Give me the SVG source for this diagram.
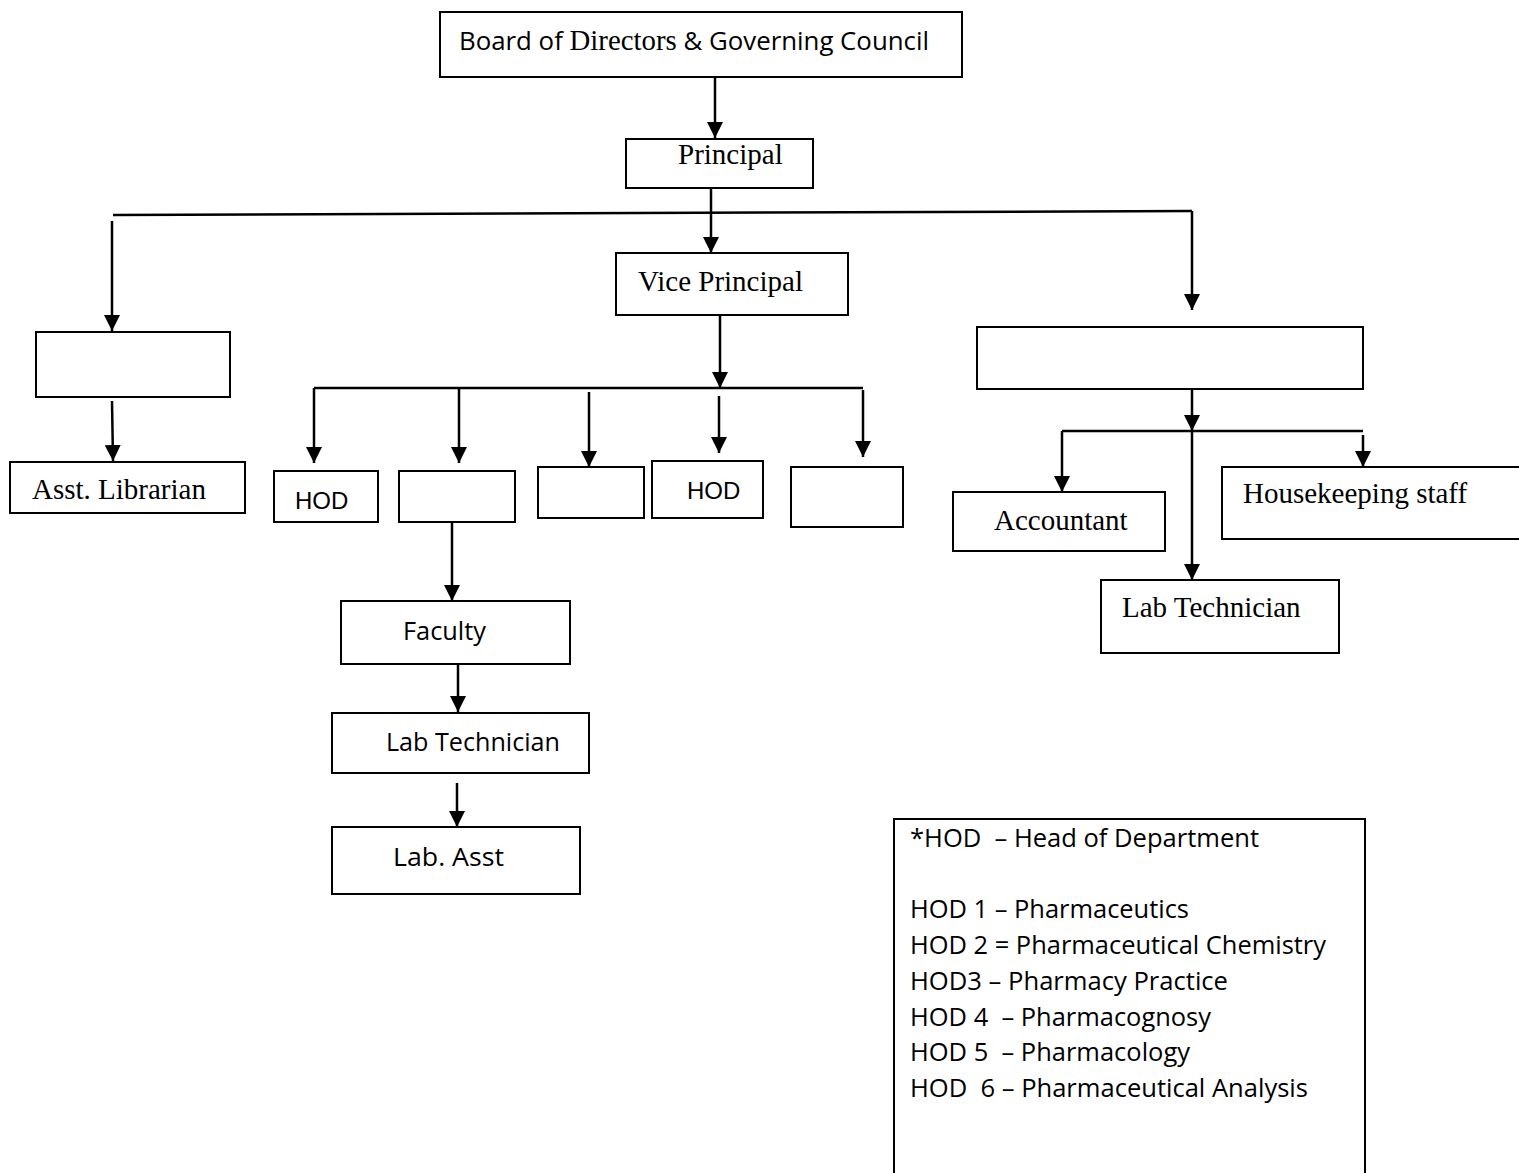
<svg xmlns="http://www.w3.org/2000/svg" width="1519" height="1173" viewBox="0 0 1519 1173">
<style>
.box{fill:#fff;stroke:#000;stroke-width:2}
.ln{fill:none;stroke:#000;stroke-width:2.5}
.ar{fill:none;stroke:#000;stroke-width:2.5;marker-end:url(#ah)}
.serif{font-family:"Liberation Serif","Times New Roman",serif;font-size:29px;fill:#000}
.sans{font-family:"Open Sans","Noto Sans",sans-serif;font-size:26px;fill:#000}
.arial{font-family:"Liberation Sans",Arial,sans-serif;font-size:24px;fill:#000}
text{white-space:pre}
</style>
<defs>
<marker id="ah" markerUnits="userSpaceOnUse" viewBox="0 0 16 16" refX="16" refY="8" markerWidth="16" markerHeight="16" orient="auto">
<path d="M0,0 L16,8 L0,16 z" fill="#000"/>
</marker>
</defs>
<rect width="1519" height="1173" fill="#fff"/>

<g id="connectors">
<line class="ar" x1="715" y1="77" x2="715" y2="138"/>
<line class="ar" x1="711" y1="182" x2="711" y2="253"/>
<line class="ln" x1="113" y1="215" x2="1192" y2="211"/>
<line class="ar" x1="112" y1="221" x2="112" y2="331"/>
<line class="ar" x1="1192" y1="211" x2="1192" y2="310"/>
<line class="ar" x1="112" y1="401" x2="113" y2="461"/>
<line class="ar" x1="720" y1="313" x2="720" y2="388"/>
<line class="ln" x1="314" y1="388" x2="863" y2="388"/>
<line class="ar" x1="314" y1="388" x2="314" y2="463"/>
<line class="ar" x1="459" y1="388" x2="459" y2="463"/>
<line class="ar" x1="589" y1="392" x2="589" y2="467"/>
<line class="ar" x1="719" y1="396" x2="719" y2="453"/>
<line class="ar" x1="863" y1="390" x2="863" y2="457"/>
<line class="ar" x1="452" y1="522" x2="452" y2="601"/>
<line class="ar" x1="458" y1="664" x2="458" y2="712"/>
<line class="ar" x1="457" y1="783" x2="457" y2="827"/>
<line class="ar" x1="1192" y1="389" x2="1192" y2="431"/>
<line class="ln" x1="1062" y1="431" x2="1363" y2="431"/>
<line class="ar" x1="1062" y1="431" x2="1062" y2="492"/>
<line class="ar" x1="1192" y1="431" x2="1192" y2="580"/>
<line class="ar" x1="1363" y1="435" x2="1363" y2="467"/>
</g>

<g id="board">
<rect class="box" x="440" y="12" width="522" height="65"/>
<text x="459" y="50" textLength="470" lengthAdjust="spacingAndGlyphs"><tspan class="sans" font-size="25">Board of </tspan><tspan class="serif" font-size="27">Directors</tspan><tspan class="sans" font-size="25"> &amp; Governing Council</tspan></text>
</g>
<g id="principal">
<rect class="box" x="626" y="139" width="187" height="49"/>
<text class="serif" x="678" y="164">Principal</text>
</g>
<g id="vice-principal">
<rect class="box" x="616" y="253" width="232" height="62"/>
<text class="serif" x="638" y="291">Vice Principal</text>
</g>
<g id="left-blank">
<rect class="box" x="36" y="332" width="194" height="65"/>
</g>
<g id="asst-librarian">
<rect class="box" x="10" y="462" width="235" height="51"/>
<text class="serif" x="32" y="499">Asst. Librarian</text>
</g>
<g id="hod-1">
<rect class="box" x="274" y="471" width="104" height="51"/>
<text class="arial" x="295" y="509">HOD</text>
</g>
<g id="hod-2">
<rect class="box" x="399" y="471" width="116" height="51"/>
</g>
<g id="hod-3">
<rect class="box" x="538" y="467" width="106" height="51"/>
</g>
<g id="hod-4">
<rect class="box" x="652" y="461" width="111" height="57"/>
<text class="arial" x="687" y="499">HOD</text>
</g>
<g id="hod-5">
<rect class="box" x="791" y="467" width="112" height="60"/>
</g>
<g id="faculty">
<rect class="box" x="341" y="601" width="229" height="63"/>
<text class="sans" x="403" y="640" textLength="83" lengthAdjust="spacingAndGlyphs">Faculty</text>
</g>
<g id="lab-technician-1">
<rect class="box" x="332" y="713" width="257" height="60"/>
<text class="sans" x="386" y="751" textLength="174" lengthAdjust="spacingAndGlyphs">Lab Technician</text>
</g>
<g id="lab-asst">
<rect class="box" x="332" y="827" width="248" height="67"/>
<text class="sans" x="393" y="866" textLength="111" lengthAdjust="spacingAndGlyphs">Lab. Asst</text>
</g>
<g id="right-blank">
<rect class="box" x="977" y="327" width="386" height="62"/>
</g>
<g id="accountant">
<rect class="box" x="953" y="492" width="212" height="59"/>
<text class="serif" x="994" y="530">Accountant</text>
</g>
<g id="housekeeping">
<rect class="box" x="1222" y="467" width="300" height="72"/>
<text class="serif" x="1243" y="503">Housekeeping staff</text>
</g>
<g id="lab-technician-2">
<rect class="box" x="1101" y="580" width="238" height="73"/>
<text class="serif" x="1122" y="617">Lab Technician</text>
</g>
<g id="legend">
<rect class="box" x="894" y="819" width="471" height="360"/>
<text class="sans" x="910" y="847" textLength="349" lengthAdjust="spacingAndGlyphs">*HOD  – Head of Department</text>
<text class="sans" x="910" y="918" textLength="279" lengthAdjust="spacingAndGlyphs">HOD 1 – Pharmaceutics</text>
<text class="sans" x="910" y="954" textLength="416" lengthAdjust="spacingAndGlyphs">HOD 2 = Pharmaceutical Chemistry</text>
<text class="sans" x="910" y="990" textLength="318" lengthAdjust="spacingAndGlyphs">HOD3 – Pharmacy Practice</text>
<text class="sans" x="910" y="1026" textLength="301" lengthAdjust="spacingAndGlyphs">HOD 4  – Pharmacognosy</text>
<text class="sans" x="910" y="1061" textLength="280" lengthAdjust="spacingAndGlyphs">HOD 5  – Pharmacology</text>
<text class="sans" x="910" y="1097" textLength="398" lengthAdjust="spacingAndGlyphs">HOD  6 – Pharmaceutical Analysis</text>
</g>
</svg>
